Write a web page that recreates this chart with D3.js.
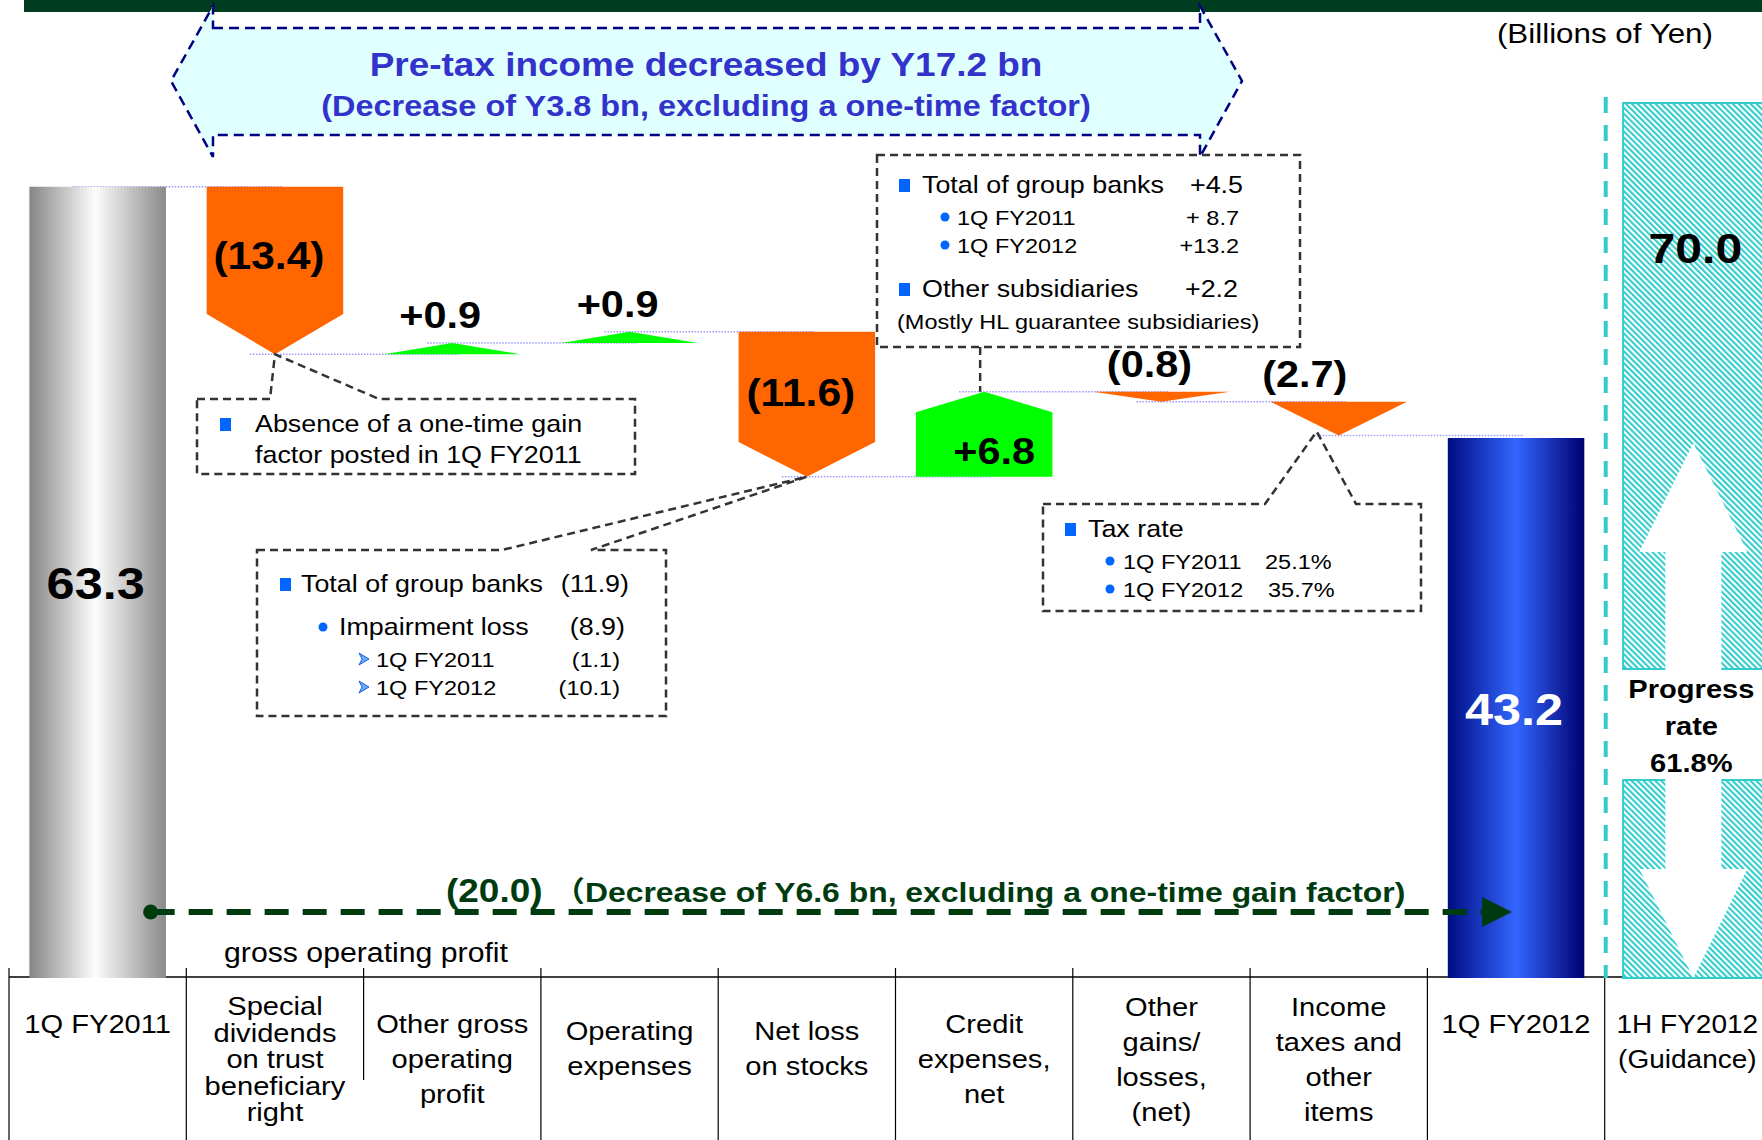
<!DOCTYPE html>
<html>
<head>
<meta charset="utf-8">
<script src="https://cdn.jsdelivr.net/npm/d3@7"></script>
<style>
  body { margin: 0; background: #fff; overflow: hidden; }
  svg { display: block; font-family: "Liberation Sans", Arial, "Noto Sans CJK JP", sans-serif; }
</style>
</head>
<body>
<div class="container"></div>
<script>
// ---- data (billions of yen) ----
var categories = ['1Q FY2011', 'Special dividends', 'Other gross operating profit', 'Operating expenses',
  'Net loss on stocks', 'Credit expenses, net', 'Other gains/losses (net)', 'Income taxes and other items',
  '1Q FY2012', '1H FY2012 (Guidance)'];
var categoryLines = [['1Q FY2011'], ['Special', 'dividends', 'on trust', 'beneficiary', 'right'],
  ['Other gross', 'operating', 'profit'], ['Operating', 'expenses'], ['Net loss', 'on stocks'],
  ['Credit', 'expenses,', 'net'], ['Other', 'gains/', 'losses,', '(net)'], ['Income', 'taxes and', 'other', 'items'],
  ['1Q FY2012'], ['1H FY2012', '(Guidance)']];
var values = [63.3, -13.4, 0.9, 0.9, -11.6, 6.8, -0.8, -2.7, 43.2, 70.0];
var kinds = ['start', 'step', 'step', 'step', 'step', 'step', 'step', 'step', 'end', 'guide'];
var valueLabels = ['63.3', '(13.4)', '+0.9', '+0.9', '(11.6)', '+6.8', '(0.8)', '(2.7)', '43.2', '70.0'];
var progressLines = ['Progress', 'rate', '61.8%'];

var bannerLines = ['Pre-tax income decreased by Y17.2 bn', '(Decrease of Y3.8 bn, excluding a one-time factor)'];
var totalChange = '(20.0)';
var totalChangeNote = '\uFF08Decrease of Y6.6 bn, excluding a one-time gain factor)';
var noteGain = ['Absence of a one-time gain', 'factor posted in 1Q FY2011'];
var noteStocks = [['square', 'Total of group banks', '(11.9)'], ['circle', 'Impairment loss', '(8.9)'],
  ['arrow', '1Q FY2011', '(1.1)'], ['arrow', '1Q FY2012', '(10.1)']];
var noteCredit = [['square', 'Total of group banks', '+4.5'], ['circle', '1Q FY2011', '+ 8.7'],
  ['circle', '1Q FY2012', '+13.2'], ['square', 'Other subsidiaries', '+2.2'],
  ['none', '(Mostly HL guarantee subsidiaries)', '']];
var noteTax = [['square', 'Tax rate', ''], ['circle', '1Q FY2011', '25.1%'], ['circle', '1Q FY2012', '35.7%']];

const WIDTH = 1762;
const HEIGHT = 1140;
const BASE_Y = 978;
const SX = 1.12;   // the slide is stretched sideways a little

var svg = d3.select('.container').append('svg')
  .attr('width', WIDTH)
  .attr('height', HEIGHT);

var x = d3.scaleBand().domain(categories).range([9, 9 + 177.3 * categories.length]);
var y = d3.scaleLinear().domain([0, 70]).range([BASE_Y, 103]);
var barW = x.bandwidth() * 0.77;
var cx = function (i) { return x(categories[i]) + x.bandwidth() / 2; };

var txt = function (g, s, tx, ty, size, o) {
  o = o || {};
  return g.append('text')
    .attr('transform', 'translate(' + tx + ',' + ty + ') scale(' + SX + ',1)')
    .attr('text-anchor', o.anchor || 'start')
    .attr('font-size', size)
    .attr('font-weight', o.bold ? 'bold' : 'normal')
    .attr('fill', o.fill || '#000')
    .text(s);
};

// ---- defs ----
var defs = svg.append('defs');
var grayGrad = defs.append('linearGradient').attr('id', 'grayCyl');
grayGrad.append('stop').attr('offset', '0%').attr('stop-color', '#858585');
grayGrad.append('stop').attr('offset', '48%').attr('stop-color', '#fdfdfd');
grayGrad.append('stop').attr('offset', '100%').attr('stop-color', '#8a8a8a');
var blueGrad = defs.append('linearGradient').attr('id', 'blueCyl');
blueGrad.append('stop').attr('offset', '0%').attr('stop-color', '#000c82');
blueGrad.append('stop').attr('offset', '50%').attr('stop-color', '#3366ff');
blueGrad.append('stop').attr('offset', '100%').attr('stop-color', '#000070');
var hatch = defs.append('pattern').attr('id', 'hatch')
  .attr('patternUnits', 'userSpaceOnUse').attr('width', 4.2).attr('height', 4.2)
  .attr('patternTransform', 'rotate(-45)');
hatch.append('rect').attr('width', 4.2).attr('height', 4.2).attr('fill', '#fff');
hatch.append('rect').attr('width', 2.1).attr('height', 4.2).attr('fill', '#33cccc');

// ---- header strip and banner arrow ----
svg.append('rect').attr('x', 24).attr('y', 0).attr('width', WIDTH - 24).attr('height', 12).attr('fill', '#003c1f');

svg.append('path')
  .attr('d', 'M213,28 L1200,28 L1200,6 L1242,81 L1200,157 L1200,135 L213,135 L213,157 L171,81 L213,6 Z')
  .attr('fill', '#e0ffff')
  .attr('stroke', '#000080')
  .attr('stroke-width', 2.5)
  .attr('stroke-dasharray', '10,6');
txt(svg, bannerLines[0], 706, 76, 33, { anchor: 'middle', bold: true, fill: '#3333cc' });
txt(svg, bannerLines[1], 706, 116, 29, { anchor: 'middle', bold: true, fill: '#3333cc' });

txt(svg, '(Billions of Yen)', 1713, 43, 28, { anchor: 'end' });

// ---- waterfall levels ----
var levels = [];
var running = 0;
values.forEach(function (v, i) {
  var from, to;
  if (kinds[i] === 'step') { from = running; to = running + v; running = to; }
  else { from = 0; to = v; running = v; }
  levels.push({ from: from, to: to });
});

// dotted connectors between consecutive marks
for (var i = 0; i < 8; i++) {
  svg.append('line')
    .attr('x1', cx(i) - 25).attr('x2', cx(i + 1) + 8)
    .attr('y1', y(levels[i].to)).attr('y2', y(levels[i].to))
    .attr('stroke', '#9a9aff').attr('stroke-width', 1.5).attr('stroke-dasharray', '1.5,1.5');
}

// ---- category axis ----
var axisG = svg.append('g');
axisG.append('line').attr('x1', 9).attr('x2', WIDTH).attr('y1', BASE_Y - 1).attr('y2', BASE_Y - 1)
  .attr('stroke', '#000').attr('stroke-width', 1.5);
categories.forEach(function (c, i) {
  var bx = x(c);
  axisG.append('line').attr('x1', bx).attr('x2', bx)
    .attr('y1', 968).attr('y2', i === 2 ? 1080 : HEIGHT)
    .attr('stroke', '#000').attr('stroke-width', 1.2);
});
categoryLines.forEach(function (lines, i) {
  var n = lines.length;
  var lh = n >= 5 ? 26.5 : 35;
  var first = n === 1 ? 1033 : (n === 2 ? 1040 : 1068 - (n - 1) * lh / 2);
  // the last column runs into the page edge: keep its text inside
  var lx = i === categories.length - 1 ? cx(i) - 6 : cx(i);
  var fs = i === categories.length - 1 ? 25 : 26;
  lines.forEach(function (s, k) {
    txt(axisG, s, lx, (i === categories.length - 1 ? 1033 : first) + k * lh, fs, { anchor: 'middle' });
  });
});
txt(axisG, 'gross operating profit', 224, 962, 27);

// ---- divider before the guidance column ----
svg.append('line')
  .attr('x1', x(categories[9]) + 1).attr('x2', x(categories[9]) + 1)
  .attr('y1', 97).attr('y2', BASE_Y)
  .attr('stroke', '#33cccc').attr('stroke-width', 4).attr('stroke-dasharray', '16,12');

// ---- bars ----
var markG = svg.append('g');
levels.forEach(function (lv, i) {
  var c = cx(i), x0 = c - barW / 2, x1 = c + barW / 2;
  var kind = kinds[i];
  if (kind === 'start' || kind === 'end') {
    markG.append('rect')
      .attr('x', x0).attr('y', y(lv.to)).attr('width', barW).attr('height', y(0) - y(lv.to))
      .attr('fill', kind === 'start' ? 'url(#grayCyl)' : 'url(#blueCyl)');
  } else if (kind === 'step') {
    var top = y(Math.max(lv.from, lv.to)), bot = y(Math.min(lv.from, lv.to));
    var h = bot - top, neg = values[i] < 0, pts;
    if (h > 60) {
      var hd = 0.24 * h;
      pts = neg ? [[x0, top], [x1, top], [x1, bot - hd], [c, bot], [x0, bot - hd]]
                : [[c, top], [x1, top + hd], [x1, bot], [x0, bot], [x0, top + hd]];
    } else {
      pts = neg ? [[x0, top], [x1, top], [c, bot]] : [[c, top], [x1, bot], [x0, bot]];
    }
    markG.append('polygon')
      .attr('points', pts.map(function (p) { return p.join(','); }).join(' '))
      .attr('fill', neg ? '#ff6600' : '#00ff00');
    lv.top = top; lv.bot = bot; lv.hd = h > 60 ? 0.24 * h : 0;
  }
});

// guidance bar: hatched, with a white up/down arrow and a gap for the text
(function () {
  var i = 9, c = cx(i);
  var x0 = c - barW / 2 - 2, w = barW + 4;
  var top = y(values[i]), bot = y(0);
  var gapTop = top + 566, gapBot = bot - 198;
  var g = svg.append('g');
  [[top, gapTop], [gapBot, bot]].forEach(function (seg) {
    g.append('rect').attr('x', x0).attr('y', seg[0]).attr('width', w).attr('height', seg[1] - seg[0])
      .attr('fill', 'url(#hatch)').attr('stroke', '#33cccc').attr('stroke-width', 2);
  });
  var headHalf = 54, shaftHalf = 28;
  var upTip = top + 340, upBase = top + 449, downBase = bot - 109;
  g.append('polygon').attr('fill', '#fff').attr('points', [
    [c, upTip], [c + headHalf, upBase], [c + shaftHalf, upBase], [c + shaftHalf, gapTop + 1],
    [c - shaftHalf, gapTop + 1], [c - shaftHalf, upBase], [c - headHalf, upBase]].join(' '));
  g.append('polygon').attr('fill', '#fff').attr('points', [
    [c, bot], [c + headHalf, downBase], [c + shaftHalf, downBase], [c + shaftHalf, gapBot - 1],
    [c - shaftHalf, gapBot - 1], [c - shaftHalf, downBase], [c - headHalf, downBase]].join(' '));
  var pb = [698, 735, 772];
  progressLines.forEach(function (s, k) { txt(g, s, c - 2, pb[k], 26, { anchor: 'middle', bold: true }); });
})();

// ---- callouts ----
var noteStroke = function (sel) {
  return sel.attr('fill', 'none').attr('stroke', '#333').attr('stroke-width', 2.5).attr('stroke-dasharray', '8,5');
};
var calloutPath = function (l, t, r, b, gl, gr, ax, ay) {
  return 'M' + l + ',' + t + ' L' + gl + ',' + t + ' L' + ax + ',' + ay + ' L' + gr + ',' + t +
    ' L' + r + ',' + t + ' L' + r + ',' + b + ' L' + l + ',' + b + ' Z';
};
var bullet = function (g, type, bx, base) {
  if (type === 'square') {
    g.append('rect').attr('x', bx).attr('y', base - 14).attr('width', 11).attr('height', 13).attr('fill', '#0066ff');
  } else if (type === 'circle') {
    g.append('circle').attr('cx', bx).attr('cy', base - 8).attr('r', 4.5).attr('fill', '#0066ff');
  } else if (type === 'arrow') {
    g.append('polygon').attr('fill', '#66aaff').attr('stroke', '#0044cc').attr('stroke-width', 0.8)
      .attr('points', [[bx, base - 14], [bx + 10, base - 8], [bx, base - 2], [bx + 3, base - 8]].join(' '));
  }
};
var noteG = svg.append('g');

// one-time gain
noteStroke(noteG.append('path')
  .attr('d', calloutPath(197, 399, 635, 474, 270, 379, cx(1), y(levels[1].to))));
bullet(noteG, 'square', 220, 432);
noteGain.forEach(function (s, k) { txt(noteG, s, 255, 432 + k * 31, 24); });

// net loss on stocks
noteStroke(noteG.append('path')
  .attr('d', calloutPath(257, 550, 666, 716, 502, 591, cx(4), y(levels[4].to))));
var sRows = { base: [592, 635, 667, 695], bx: { square: 280, circle: 323, arrow: 359 },
  tx: { square: 301, circle: 339, arrow: 376 }, vx: [629, 625, 620, 620], fs: [24, 24, 21, 21] };
noteStocks.forEach(function (r, k) {
  bullet(noteG, r[0], sRows.bx[r[0]], sRows.base[k]);
  txt(noteG, r[1], sRows.tx[r[0]], sRows.base[k], sRows.fs[k]);
  txt(noteG, r[2], sRows.vx[k], sRows.base[k], sRows.fs[k], { anchor: 'end' });
});

// credit expenses
noteStroke(noteG.append('rect').attr('x', 877).attr('y', 155).attr('width', 423).attr('height', 192));
noteStroke(noteG.append('line').attr('x1', cx(5) - 4).attr('x2', cx(5) - 4).attr('y1', 347).attr('y2', y(levels[5].to)));
var cRows = { base: [193, 225, 253, 297, 329], bx: { square: 899, circle: 945 },
  tx: { square: 922, circle: 957, none: 897 }, vx: [1243, 1239, 1239, 1238, 0], fs: [24, 21, 21, 24, 21] };
noteCredit.forEach(function (r, k) {
  bullet(noteG, r[0], cRows.bx[r[0]], cRows.base[k]);
  txt(noteG, r[1], cRows.tx[r[0]], cRows.base[k], cRows.fs[k]);
  if (r[2]) txt(noteG, r[2], cRows.vx[k], cRows.base[k], cRows.fs[k], { anchor: 'end' });
});

// tax rate
noteStroke(noteG.append('path')
  .attr('d', calloutPath(1043, 504, 1421, 611, 1265, 1356, cx(7) - 22, y(levels[7].to) - 4)));
var tRows = { base: [537, 569, 597], bx: { square: 1065, circle: 1110 }, tx: { square: 1088, circle: 1123 },
  vx: [0, 1265, 1268], fs: [24, 21, 21] };
noteTax.forEach(function (r, k) {
  bullet(noteG, r[0], tRows.bx[r[0]], tRows.base[k]);
  txt(noteG, r[1], tRows.tx[r[0]], tRows.base[k], tRows.fs[k]);
  if (r[2]) txt(noteG, r[2], tRows.vx[k], tRows.base[k], tRows.fs[k]);
});

// ---- value labels ----
var labelG = svg.append('g');
levels.forEach(function (lv, i) {
  var c = cx(i), kind = kinds[i], s = valueLabels[i];
  if (kind === 'start' || kind === 'end') {
    txt(labelG, s, c - 2, y(values[i] / 2) + 17, 45,
      { anchor: 'middle', bold: true, fill: kind === 'end' ? '#fff' : '#000' });
  } else if (kind === 'guide') {
    txt(labelG, s, c + 2, y(values[i]) + 160, 43, { anchor: 'middle', bold: true });
  } else if (lv.hd > 0) {
    if (values[i] < 0) txt(labelG, s, c - 6, (lv.top + lv.bot - lv.hd) / 2 + 19, 38, { anchor: 'middle', bold: true });
    else txt(labelG, s, c + 10, (lv.top + lv.hd + lv.bot) / 2 + 20, 37, { anchor: 'middle', bold: true });
  } else {
    var nudge = i === 7 ? -34 : -12;
    txt(labelG, s, c + nudge, lv.top - 15, 37, { anchor: 'middle', bold: true });
  }
});

// ---- total change arrow ----
var arrowG = svg.append('g');
var ay = 912, ax0 = cx(0) + 53, ax1 = cx(8) - 4;
arrowG.append('line').attr('x1', ax0).attr('x2', ax1 - 30).attr('y1', ay).attr('y2', ay)
  .attr('stroke', '#003b10').attr('stroke-width', 6).attr('stroke-dasharray', '24,14');
arrowG.append('circle').attr('cx', ax0).attr('cy', ay).attr('r', 7.5).attr('fill', '#003b10');
arrowG.append('polygon').attr('fill', '#003b10')
  .attr('points', [[ax1 - 30, ay - 15], [ax1, ay], [ax1 - 30, ay + 15]].join(' '));
txt(arrowG, totalChange, 446, 902, 33, { bold: true, fill: '#003b10' });
txt(arrowG, totalChangeNote, 553, 902, 28.5, { bold: true, fill: '#003b10' });
</script>
</body>
</html>
